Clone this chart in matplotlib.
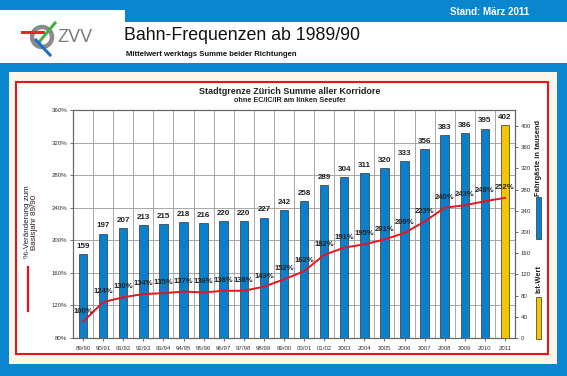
import matplotlib
matplotlib.use("Agg")
import matplotlib.pyplot as plt
from matplotlib.patches import Rectangle, Circle
from matplotlib.lines import Line2D

plt.rcParams['font.family'] = ['Liberation Sans', 'DejaVu Sans']

categories = ["89/90", "90/91", "91/92", "92/93", "93/94", "94/95", "95/96", "96/97",
              "97/98", "98/99", "99/00", "00/01", "01/02", "2003", "2004", "2005",
              "2006", "2007", "2008", "2009", "2010", "2011"]
passengers = [159, 197, 207, 213, 215, 218, 216, 220, 220, 227, 242, 258, 289, 304,
              311, 320, 333, 356, 383, 386, 395, 402]
pct_change = [100, 124, 130, 134, 135, 137, 136, 138, 138, 143, 152, 162, 182, 191,
              195, 201, 209, 223, 240, 243, 248, 252]
left_ticks = [80, 120, 160, 200, 240, 280, 320, 360]
right_ticks = [0, 40, 80, 120, 160, 200, 240, 280, 320, 360, 400]

BLUE = "#0a86cf"
BAR = "#0a7fcc"
YEL = "#f7c400"
RED = "#e8141c"
CREAM = "#fbf6ea"

W, H = 567, 376
fig = plt.figure(figsize=(W / 100, H / 100), dpi=100)
fig.patch.set_facecolor(BLUE)

def fx(x): return x / W
def fy(y): return 1 - y / H

bg = fig.add_axes([0, 0, 1, 1])
bg.set_xlim(0, W); bg.set_ylim(H, 0); bg.axis("off")
bg.add_patch(Rectangle((0, 0), W, H, facecolor=BLUE, edgecolor="none"))
# white header
bg.add_patch(Rectangle((0, 10), 125, 53, facecolor="white", edgecolor="none"))
bg.add_patch(Rectangle((125, 22), W - 125, 41, facecolor="white", edgecolor="none"))
# cream panel
bg.add_patch(Rectangle((9, 72), 548, 292, facecolor=CREAM, edgecolor="none"))
# red framed white chart area
bg.add_patch(Rectangle((16, 82), 532, 272, facecolor="white", edgecolor=RED, lw=1.5))

# logo
bg.add_patch(Circle((42, 37), 10, facecolor="none", edgecolor="#8a8a8a", lw=3.2))
bg.add_line(Line2D([22, 43], [32, 32], color="#e3262b", lw=2.2))
bg.add_line(Line2D([40, 55], [41, 23], color="#3fb24a", lw=2.2))
bg.add_line(Line2D([36, 50], [40, 55], color="#1a6fc4", lw=2.2))
bg.text(57, 38, "ZVV", fontsize=13, color="#7a7a7a", va="center", ha="left")

bg.text(124, 36, "Bahn-Frequenzen ab 1989/90", fontsize=12.8, color="#111111",
        va="center", ha="left")
bg.text(126, 54, "Mittelwert werktags Summe beider Richtungen", fontsize=5.5,
        fontweight="bold", color="#111111", va="center", ha="left")
bg.text(490, 12, "Stand: März 2011", fontsize=7, fontweight="bold", color="white",
        va="center", ha="center")

bg.text(290, 91, "Stadtgrenze Zürich Summe aller Korridore", fontsize=6.5,
        fontweight="bold", color="#222222", va="center", ha="center")
bg.text(290, 101, "ohne EC/IC/IR am linken Seeufer", fontsize=5.2,
        fontweight="bold", color="#222222", va="center", ha="center")

# legends
bg.text(31, 222, "%-Veränderung zum\nBasisjahr 89/90", fontsize=5.8, rotation=90,
        color="#222222", va="center", ha="center", linespacing=1.1)
bg.add_line(Line2D([28, 28], [267, 311], color=RED, lw=1.6))
bg.text(539, 158, "Fahrgäste in tausend", fontsize=5.4, fontweight="bold", rotation=90,
        color="#222222", va="center", ha="center")
bg.add_patch(Rectangle((536, 197), 5, 42, facecolor=BAR, edgecolor="#333333", lw=0.5))
bg.text(539, 279, "Ist-Wert", fontsize=5.4, fontweight="bold", rotation=90,
        color="#222222", va="center", ha="center")
bg.add_patch(Rectangle((536, 297), 5, 42, facecolor=YEL, edgecolor="#333333", lw=0.5))

# main chart
ax_l, ax_r, ax_t, ax_b = 73, 515, 110, 338
rect = [fx(ax_l), fy(ax_b), (ax_r - ax_l) / W, (ax_b - ax_t) / H]
ax = fig.add_axes(rect)
ax.set_facecolor("white")
ax2 = ax.twinx()

n = len(categories)
x = list(range(n))
colors = [BAR] * (n - 1) + [YEL]
ax2.bar(x, passengers, width=0.42, color=colors, edgecolor="#333333", linewidth=0.5,
        zorder=3)
for xi, v in zip(x, passengers):
    ax2.annotate(str(v), (xi, v), xytext=(0, 3), textcoords="offset points",
                 ha="center", va="bottom", fontsize=5.8, fontweight="bold",
                 color="#222222")
ax2.set_ylim(0, 430)
ax2.set_yticks(right_ticks)
ax2.set_yticklabels([str(t) for t in right_ticks])

ax.set_ylim(80, 360)
ax.set_yticks(left_ticks)
ax.set_yticklabels([f"{t}%" for t in left_ticks])
ax.set_xlim(-0.5, n - 0.5)
ax.set_xticks(x)
ax.set_xticklabels(categories)
ax.set_xticks([i + 0.5 for i in range(n - 1)], minor=True)
ax.grid(True, axis="y", color="#9a9a9a", lw=0.6)
ax.grid(True, axis="x", which="minor", color="#9a9a9a", lw=0.6)
ax.tick_params(axis="x", which="both", length=0)

# line on a transparent overlay axes sharing the left scale
ax3 = fig.add_axes(rect)
ax3.set_xlim(-0.5, n - 0.5)
ax3.set_ylim(80, 360)
ax3.axis("off")
ax3.patch.set_visible(False)
ax3.plot(x, pct_change, color=RED, lw=1.4, zorder=5, solid_joinstyle="round")
for xi, v in zip(x, pct_change):
    ax3.annotate(f"{v}%", (xi, v), xytext=(0, 5), textcoords="offset points",
                 ha="center", va="bottom", fontsize=5.5, fontweight="bold",
                 color="#222222", zorder=6)

for a in (ax, ax2):
    a.tick_params(labelsize=4.4, colors="#333333", length=2, width=0.5, pad=2)
    for s in a.spines.values():
        s.set_color("#666666"); s.set_linewidth(0.8)
ax.tick_params(axis="x", pad=4)

fig.savefig("out.png", dpi=100, facecolor=fig.get_facecolor())
